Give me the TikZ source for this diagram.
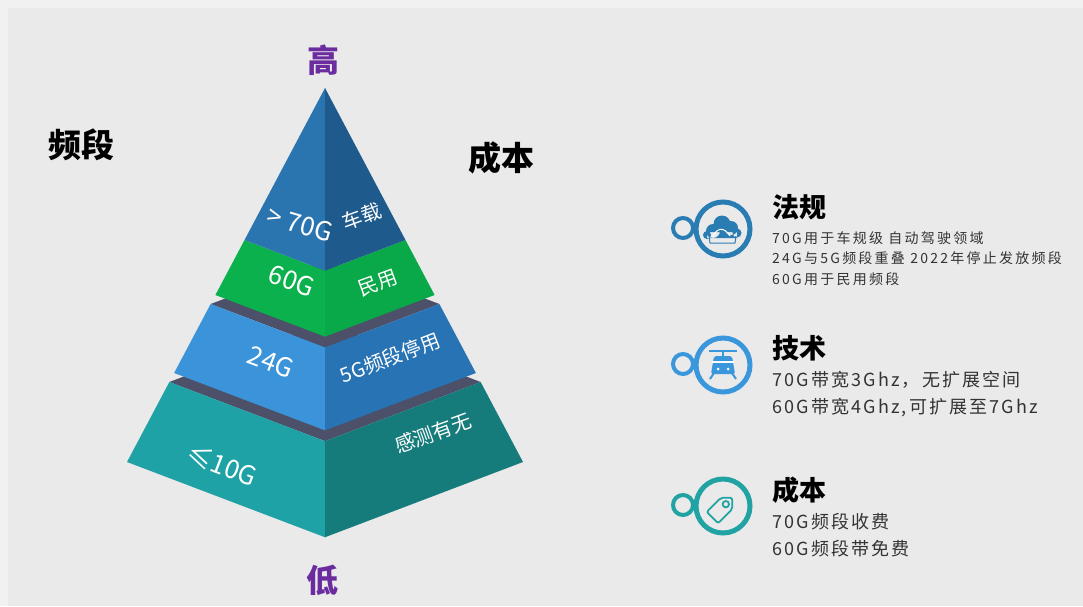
\documentclass[tikz,border=0pt]{standalone}
\usepackage{fontspec}
\setmainfont{Noto Sans CJK SC}
\newfontfamily\bodyfont[LetterSpace=12]{Noto Sans CJK SC}
\newfontfamily\smallbodyfont[LetterSpace=16]{Noto Sans CJK SC}
\usetikzlibrary{positioning,calc}
\definecolor{pagegray}{HTML}{EAEAEA}
\definecolor{rimgray}{HTML}{F1F1F1}
\definecolor{slategray}{HTML}{4C5068}
\definecolor{topL}{HTML}{2A74B0}
\definecolor{topR}{HTML}{1E5A8C}
\definecolor{greenL}{HTML}{0AB14C}
\definecolor{greenR}{HTML}{09A849}
\definecolor{blueL}{HTML}{3B94DA}
\definecolor{blueR}{HTML}{2873B3}
\definecolor{tealL}{HTML}{1EA2A6}
\definecolor{tealR}{HTML}{167C7B}
\definecolor{levelpurple}{HTML}{6A2C9F}
\definecolor{lawblue}{HTML}{2A7DB3}
\definecolor{techblue}{HTML}{3B97DC}
\definecolor{costteal}{HTML}{21A3A4}
\definecolor{bodytext}{HTML}{333333}

\begin{document}
\begin{tikzpicture}[x=1pt,y=-1pt,
  facenum/.style={text=white,inner sep=0pt,font=\fontsize{26}{26}\selectfont},
  faceword/.style={text=white,inner sep=0pt,font=\fontsize{20}{20}\selectfont},
  level/.style={text=levelpurple,inner sep=0pt,font=\fontsize{32}{32}\selectfont\bfseries},
  axis/.style={text=black,inner sep=0pt,font=\fontsize{33}{33}\selectfont\bfseries},
  ring/.style={draw=#1,line width=5pt},
  knob/.style={draw=#1,line width=4pt},
  cardtitle/.style={anchor=west,inner sep=0pt,text=black,font=\fontsize{27}{27}\selectfont\bfseries},
  cardbody/.style={anchor=north west,inner sep=0pt,align=left,text=bodytext},
]
  % page
  \fill[rimgray] (0,0) rectangle (1083,606);
  \fill[pagegray] (8,8) rectangle (1083,606);
  \useasboundingbox (0,0) rectangle (1083,606);

  % pyramid, bottom layer first; half width grows 0.5294 per px below the apex
  \foreach \yt/\yb/\cl/\cr/\gap in {382/462/tealL/tealR/1,304/373/blueL/blueR/1,
                                      240/295/greenL/greenR/0,88/240/topL/topR/0}{
    \pgfmathsetmacro\wt{0.5294*(\yt-88)}
    \pgfmathsetmacro\wb{0.5294*(\yb-88)}
    \pgfmathsetmacro\dt{0.38*\wt}
    \pgfmathsetmacro\db{0.38*\wb}
    \ifnum\gap=1
      \fill[slategray] (325-\wt,\yt) -- (325,\yt-\dt) -- (325+\wt,\yt) -- (325,\yt+\dt) -- cycle;
    \fi
    \fill[\cl] (325-\wt,\yt) -- (325,\yt+\dt) -- (325,\yb+\db) -- (325-\wb,\yb) -- cycle;
    \fill[\cr] (325+\wt,\yt) -- (325,\yt+\dt) -- (325,\yb+\db) -- (325+\wb,\yb) -- cycle;
  }

  % face labels
  \node[facenum,rotate=-16] (f70) at (300,224) {> 70G};
  \node[faceword,rotate=20] (car) at (362,216) {车载};
  \node[facenum,rotate=-20] (f60) at (292,281) {60G};
  \node[faceword,rotate=20] (civil) at (378,283) {民用};
  \node[facenum,rotate=-21] (f24) at (271,362) {24G};
  \node[faceword,rotate=21] (stop5g) at (390,358) {5G频段停用};
  \node[facenum,rotate=-21] (f10) at (222,465) {≤10G};
  \node[faceword,rotate=20] (sense) at (433,433) {感测有无};

  % axis words
  \node[level] (high) at (323,60) {高};
  \node[level] (low) at (322,580) {低};
  \node[axis] (band) at (81,145) {频段};
  \node[axis] (cost) at (501,158) {成本};

  % icon: regulation (cloud)
  \draw[knob=lawblue] (683,228) circle (10);
  \draw[ring=lawblue] (723,229) circle (27);
  \fill[lawblue] (713,231) circle (7) (722,224) circle (8.5) (731,228) circle (7)
    (737,233) circle (4.5) (707,235) circle (4) (707,232) rectangle (737,238);
  \draw[white,line width=1pt] (713,237) .. controls (716,228) and (724,226) .. (730,236);
  \draw[lawblue,line width=1pt] (709,236) -- (710,243) -- (735,243) -- (736,236);

  % icon: technology (cable car)
  \draw[knob=techblue] (683,364) circle (10);
  \draw[ring=techblue] (723,365) circle (27);
  \draw[techblue,line width=2pt] (709,351) -- (737,351);
  \draw[techblue,line width=2pt] (723,351) -- (723,356);
  \fill[techblue,rounded corners=2pt] (714,356) -- (732,356) -- (735,374) -- (711,374) -- cycle;
  \draw[white,line width=1.2pt] (712,362) -- (734,362);
  \fill[white] (718,369) circle (1.5) (728,369) circle (1.5);
  \draw[techblue,line width=2pt] (714,373) -- (710,379) (732,373) -- (736,379);

  % icon: cost (price tag)
  \draw[knob=costteal] (683,505) circle (10);
  \draw[ring=costteal] (723,506) circle (27);
  \begin{scope}[shift={(723,507)},rotate=45]
    \draw[costteal,line width=1.8pt,rounded corners=2pt]
      (-15,-8) -- (5,-8) -- (13,0) -- (5,8) -- (-15,8) -- cycle;
    \draw[costteal,line width=1.8pt] (4,0) circle (3.2);
  \end{scope}

  % cards
  \node[cardtitle] (lawtitle) at (772,207) {法规};
  \node[cardbody,font=\smallbodyfont\fontsize{14}{20.5}\selectfont] (lawtext) at (772,231)
    {70G用于车规级 自动驾驶领域\\24G与5G频段重叠 2022年停止发放频段\\60G用于民用频段};
  \node[cardtitle] (techtitle) at (772,348) {技术};
  \node[cardbody,font=\bodyfont\fontsize{18}{27}\selectfont] (techtext) at (772,371)
    {70G带宽3Ghz，无扩展空间\\60G带宽4Ghz,可扩展至7Ghz};
  \node[cardtitle] (costtitle) at (772,490) {成本};
  \node[cardbody,font=\bodyfont\fontsize{18}{27}\selectfont] (costtext) at (772,513)
    {70G频段收费\\60G频段带免费};
\end{tikzpicture}
\end{document}
